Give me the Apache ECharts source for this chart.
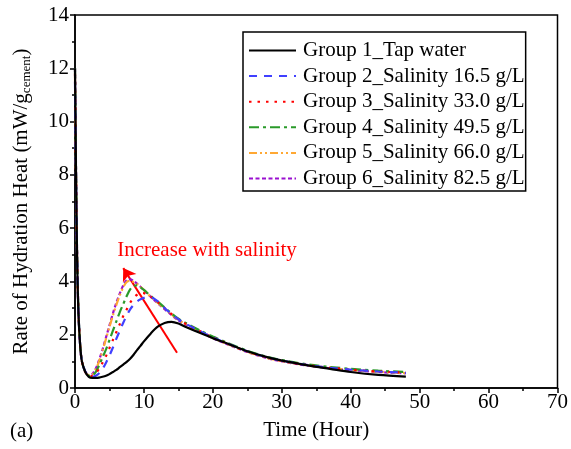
<!DOCTYPE html>
<html><head><meta charset="utf-8">
<script src="https://cdn.jsdelivr.net/npm/echarts@6/dist/echarts.min.js"></script>
<style>html,body{margin:0;padding:0;background:#fff}#c{width:571px;height:449px}</style>
</head><body><div id="c"></div>
<script>
const hours = [0, 0.15, 0.3, 0.5, 0.75, 1, 1.5, 2, 2.5, 3, 3.5, 4, 4.5, 5, 5.5, 6, 6.5, 7, 7.5, 8, 8.5, 9, 9.5, 10, 11, 12, 13, 14, 15, 16, 18, 20, 22, 25, 28, 31, 34, 37, 40, 44, 48];
const group1 = [12.0, 8.0, 5.0, 2.8, 1.6, 1.0, 0.6, 0.42, 0.38, 0.38, 0.39, 0.42, 0.46, 0.52, 0.6, 0.68, 0.78, 0.88, 0.98, 1.1, 1.25, 1.42, 1.58, 1.75, 2.05, 2.3, 2.44, 2.48, 2.42, 2.3, 2.08, 1.87, 1.68, 1.38, 1.15, 0.98, 0.84, 0.72, 0.6, 0.49, 0.43];
const group2 = [11.5, 7.8, 4.9, 2.8, 1.6, 1.0, 0.62, 0.46, 0.42, 0.46, 0.55, 0.72, 0.95, 1.22, 1.52, 1.85, 2.15, 2.45, 2.72, 2.95, 3.12, 3.25, 3.33, 3.38, 3.4, 3.25, 3.0, 2.78, 2.58, 2.42, 2.15, 1.9, 1.68, 1.38, 1.14, 0.98, 0.85, 0.76, 0.69, 0.62, 0.57];
const group3 = [11.8, 7.9, 5.0, 2.8, 1.6, 1.0, 0.6, 0.46, 0.45, 0.55, 0.72, 0.95, 1.2, 1.5, 1.8, 2.1, 2.4, 2.7, 2.95, 3.2, 3.38, 3.5, 3.57, 3.56, 3.42, 3.22, 3.0, 2.78, 2.58, 2.42, 2.15, 1.9, 1.68, 1.37, 1.13, 0.97, 0.85, 0.76, 0.69, 0.62, 0.58];
const group4 = [12.0, 8.1, 5.1, 2.9, 1.6, 1.0, 0.6, 0.46, 0.47, 0.6, 0.85, 1.15, 1.45, 1.8, 2.15, 2.5, 2.85, 3.15, 3.45, 3.7, 3.83, 3.85, 3.78, 3.68, 3.45, 3.24, 3.02, 2.8, 2.6, 2.45, 2.18, 1.93, 1.71, 1.4, 1.16, 1.0, 0.88, 0.79, 0.72, 0.65, 0.6];
const group5 = [11.7, 7.9, 5.0, 2.8, 1.6, 1.0, 0.6, 0.48, 0.5, 0.7, 1.0, 1.4, 1.85, 2.3, 2.72, 3.12, 3.48, 3.78, 3.98, 4.03, 3.98, 3.9, 3.8, 3.68, 3.42, 3.2, 2.98, 2.76, 2.56, 2.4, 2.13, 1.88, 1.66, 1.36, 1.12, 0.96, 0.84, 0.75, 0.68, 0.61, 0.56];
const group6 = [12.0, 8.2, 5.1, 2.9, 1.6, 1.0, 0.6, 0.48, 0.52, 0.72, 1.05, 1.45, 1.9, 2.35, 2.8, 3.2, 3.55, 3.85, 4.05, 4.08, 4.02, 3.92, 3.8, 3.67, 3.42, 3.18, 2.96, 2.74, 2.54, 2.38, 2.12, 1.87, 1.65, 1.35, 1.11, 0.95, 0.83, 0.74, 0.67, 0.6, 0.55];
const groupNames = ['Group 1_Tap water', 'Group 2_Salinity 16.5 g/L', 'Group 3_Salinity 33.0 g/L', 'Group 4_Salinity 49.5 g/L', 'Group 5_Salinity 66.0 g/L', 'Group 6_Salinity 82.5 g/L'];
const xTicks = [0, 10, 20, 30, 40, 50, 60, 70];
const yTicks = [0, 2, 4, 6, 8, 10, 12, 14];
const arrowFrom = [14.8, 1.32];
const arrowTo = [7.0, 4.5];
const annoPos = [5.4, 5.17];
const annoText = 'Increase with salinity';

const FONT = '"Liberation Serif","Times New Roman",serif';
const allData = [group1, group2, group3, group4, group5, group6];
const colors = ['#000000', '#4040ff', '#ff0000', '#2a9a2a', '#ffa833', '#9a10d0'];
const dashes = ['solid', [8, 7], [2.5, 6], [10, 4, 3, 4], [8, 3, 2, 3, 2, 3], [4, 2.5]];

const series = allData.map((d, i) => ({
  name: groupNames[i],
  type: 'line',
  data: hours.map((h, k) => [h, d[k]]),
  symbol: 'none',
  smooth: 0.3,
  z: 10 - i,
  lineStyle: { color: colors[i], width: 2.2, type: dashes[i] },
  itemStyle: { color: colors[i] },
  animation: false
}));
series[0].markLine = {
  silent: true,
  symbol: ['none', 'arrow'],
  symbolSize: 12,
  label: { show: false },
  lineStyle: { color: '#ff0000', width: 2, type: 'solid' },
  data: [[{ coord: arrowFrom }, { coord: arrowTo }]],
  animation: false
};
series[0].markPoint = {
  silent: true,
  symbol: 'circle',
  symbolSize: 0,
  label: { show: true, position: 'right', distance: 5, formatter: annoText, color: '#ff0000', fontFamily: FONT, fontSize: 21 },
  data: [{ coord: annoPos }],
  animation: false
};

const chart = echarts.init(document.getElementById('c'));
chart.setOption({
  animation: false,
  backgroundColor: '#fff',
  grid: { left: 75, right: 12, top: 15, bottom: 61, show: true, borderColor: '#000', borderWidth: 1.5 },
  legend: {
    left: 243, top: 32, orient: 'vertical',
    padding: [8, 1, 2, 5], itemGap: 4.6, itemWidth: 47, itemHeight: 14,
    borderColor: '#000', borderWidth: 1.5,
    itemStyle: { color: 'rgba(0,0,0,0)', borderWidth: 0, opacity: 0 },
    textStyle: { fontFamily: FONT, fontSize: 21, color: '#000', padding: [0, 0, 0, 2] },
    data: groupNames
  },
  xAxis: {
    type: 'value', min: xTicks[0], max: xTicks[xTicks.length - 1], interval: 10,
    name: 'Time (Hour)', nameLocation: 'middle', nameGap: 32,
    nameTextStyle: { fontFamily: FONT, fontSize: 21, color: '#000' },
    axisLine: { lineStyle: { color: '#000', width: 1.5 } },
    axisTick: { show: true, inside: false, length: 5, lineStyle: { color: '#000', width: 1.5 } },
    minorTick: { show: true, splitNumber: 2, length: 3, lineStyle: { color: '#000', width: 1.5 } },
    axisLabel: { fontFamily: FONT, fontSize: 21, color: '#000', margin: 4 },
    splitLine: { show: false }
  },
  yAxis: {
    type: 'value', min: yTicks[0], max: yTicks[yTicks.length - 1], interval: 2,
    name: '{a|Rate of Hydration Heat (mW/g}{s|cement}{a|)}', nameLocation: 'middle', nameGap: 42,
    nameTextStyle: { fontFamily: FONT, fontSize: 21, color: '#000',
      rich: { a: { fontFamily: FONT, fontSize: 21, color: '#000' }, s: { fontFamily: FONT, fontSize: 13, color: '#000', padding: [10, 0, 0, 0] } } },
    axisLine: { lineStyle: { color: '#000', width: 1.5 } },
    axisTick: { show: true, inside: false, length: 5, lineStyle: { color: '#000', width: 1.5 } },
    minorTick: { show: true, splitNumber: 2, length: 3, lineStyle: { color: '#000', width: 1.5 } },
    axisLabel: { fontFamily: FONT, fontSize: 21, color: '#000', margin: 6 },
    splitLine: { show: false }
  },
  graphic: [{ type: 'text', left: 10, top: 421, style: { text: '(a)', fontFamily: FONT, fontSize: 21, fill: '#000' } }],
  series: series
});
</script></body></html>
